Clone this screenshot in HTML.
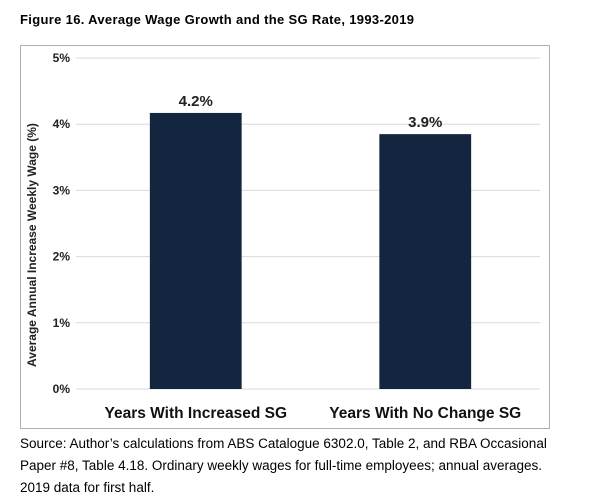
<!DOCTYPE html>
<html><head><meta charset="utf-8"><style>
body{margin:0;background:#fff;width:606px;height:502px;overflow:hidden;font-family:"Liberation Sans",sans-serif}
svg{position:absolute;left:0;top:0}
</style></head><body>
<svg width="606" height="502">
<text x="20" y="24" font-size="13" font-weight="bold" fill="#000" textLength="394">Figure 16. Average Wage Growth and the SG Rate, 1993-2019</text>
<rect x="20.5" y="45.5" width="529" height="383" fill="#fff" stroke="#b0b0b0"/>
<g id="grid"></g><g id="bars"></g>
<text transform="translate(36,245) rotate(-90)" text-anchor="middle" font-size="12" font-weight="bold" fill="#222">Average Annual Increase Weekly Wage (%)</text>
<text x="20" y="448" font-size="13.5" fill="#000">Source: Author’s calculations from ABS Catalogue 6302.0, Table 2, and RBA Occasional</text>
<text x="20" y="470" font-size="13.5" fill="#000">Paper #8, Table 4.18. Ordinary weekly wages for full-time employees; annual averages.</text>
<text x="20" y="492" font-size="13.5" fill="#000">2019 data for first half.</text>
</svg>
<script>
const categories=["Years With Increased SG","Years With No Change SG"];
const values=[4.17,3.85];
const valueLabels=["4.2%","3.9%"];
const ticks=[0,1,2,3,4,5];
const tickLabels=["0%","1%","2%","3%","4%","5%"];
const NS="http://www.w3.org/2000/svg";
const x0=81,x1=540,y0=389,y1=58,vmax=5;
const y=v=>y0-(v/vmax)*(y0-y1);
const band=(x1-x0)/categories.length;
const xc=i=>x0+band*(i+0.5);
const bw=band*0.4;
function mk(t,a,p){const e=document.createElementNS(NS,t);for(const k in a)e.setAttribute(k,a[k]);p.appendChild(e);return e;}
const g=document.getElementById('grid'),b=document.getElementById('bars');
ticks.forEach((t,i)=>{
 const l=mk('line',{x1:x0-5,x2:x1,y1:y(t),y2:y(t),stroke:'#d9d9d9','stroke-width':1},g);
 
 
 const tx=mk('text',{x:x0-11,y:y(t)+4,'text-anchor':'end','font-size':12,'font-weight':'bold',fill:'#222'},g);
 tx.textContent=tickLabels[i];
 
 
});
categories.forEach((c,i)=>{
 const r=mk('rect',{x:xc(i)-bw/2,y:y(values[i]),width:bw,height:y0-y(values[i]),fill:'#14253f'},b);
 
 
 const v=mk('text',{x:xc(i),y:y(values[i])-7,'text-anchor':'middle','font-size':15,'font-weight':'bold',fill:'#222'},b);
 v.textContent=valueLabels[i];
 
 
 const cl=mk('text',{x:xc(i),y:418,'text-anchor':'middle','font-size':15.5,'font-weight':'bold',fill:'#111'},b);
 cl.textContent=c;
 
 
});
</script>
</body></html>
